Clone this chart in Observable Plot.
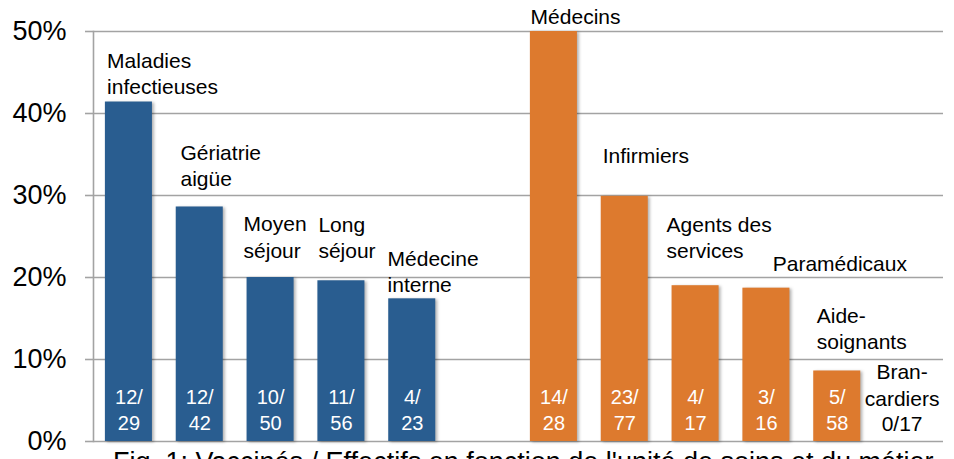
<!DOCTYPE html>
<html>
<head>
<meta charset="utf-8">
<script src="https://cdn.jsdelivr.net/npm/d3@7"></script>
<script src="https://cdn.jsdelivr.net/npm/@observablehq/plot@0.6"></script>
<style>
  html, body { margin: 0; padding: 0; background: #fff; overflow: hidden; }
  body { width: 954px; height: 459px; font-family: "Liberation Sans", Arial, Helvetica, sans-serif; }
  #chart svg { display: block; overflow: visible; }
  #caption { font-size: 27px; line-height: 30px; padding-left: 113px; white-space: nowrap; color: #000; }
</style>
</head>
<body>
<div id="chart"></div>
<div id="caption">Fig. 1: Vaccinés / Effectifs en fonction de l'unité de soins et du métier</div>
<script>
// ---- data ----
const categories = ["Maladies\ninfectieuses", "Gériatrie\naigüe", "Moyen\nséjour", "Long\nséjour", "Médecine\ninterne",
                    "Médecins", "Infirmiers", "Agents des\nservices", "Paramédicaux", "Aide-\nsoignants", "Bran-\ncardiers"];
const groups = ["unité", "unité", "unité", "unité", "unité", "métier", "métier", "métier", "métier", "métier", "métier"];
const values = [41.4, 28.6, 20.0, 19.6, 17.4, 50.0, 29.9, 19.0, 18.7, 8.6, 0];
const fractions = ["12/\n29", "12/\n42", "10/\n50", "11/\n56", "4/\n23", "14/\n28", "23/\n77", "4/\n17", "3/\n16", "5/\n58", "0/17"];
const yTicks = [0, 10, 20, 30, 40, 50];

// ---- layout / style (label nudges in pixels, relative to bar top and band centre) ----
const labelDx = [-21.8, -19.3, -27, -23, -24.7, -23.3, -22, -29, 6.3, -20.5, -6];
const labelDy = [-8, -21, -20, -23, -7, -8, -33, -28, -17, -22, -36];
const GAP = "gap";
const blue = "#295d90", orange = "#dd7a2e", gridColor = "#a3a3a3";

const rows = categories.map((key, i) => ({key, value: values[i], group: groups[i], fraction: fractions[i], i}));
const xDomain = [...categories.slice(0, 5), GAP, ...categories.slice(5)];

const labelMarks = rows.map((d, i) => Plot.text([d], {
  x: "key", y: "value", text: "key",
  dx: labelDx[i], dy: labelDy[i],
  textAnchor: d.value > 0 ? "start" : "middle",
  lineAnchor: "bottom", fontSize: 21, lineHeight: 1.24, fill: "black"
}));

const chart = Plot.plot({
  width: 954, height: 447,
  marginLeft: 93, marginRight: 11, marginTop: 31, marginBottom: 6,
  style: {fontFamily: "'Liberation Sans', Arial, Helvetica, sans-serif", background: "white", overflow: "visible"},
  x: {domain: xDomain, paddingInner: 0.336, paddingOuter: 0.168, round: false, axis: null},
  y: {domain: [0, 50], axis: null, label: null},
  color: {domain: ["unité", "métier"], range: [blue, orange]},
  marks: [
    Plot.gridY(yTicks, {stroke: gridColor, strokeOpacity: 1, strokeWidth: 1.6}),
    Plot.frame({anchor: "left", stroke: gridColor, strokeWidth: 1.6}),
    Plot.axisY(yTicks, {tickFormat: d => d + "%", tickSize: 8, tickPadding: 19, fontSize: 27, label: null,
                        stroke: gridColor, strokeWidth: 1.6, fill: "black"}),
    Plot.barY(rows.filter(d => d.value > 0), {x: "key", y: "value", fill: "group",
      imageFilter: "drop-shadow(2px 1px 1.5px rgba(0,0,0,0.3))"}),
    Plot.text(rows.filter(d => d.value > 0), {x: "key", y: d => 0, text: "fraction", dy: -12,
      lineAnchor: "bottom", fontSize: 20, lineHeight: 1.3, fill: "white"}),
    Plot.text(rows.filter(d => d.value === 0), {x: "key", y: d => 0, text: "fraction", dx: -6, dy: -11,
      lineAnchor: "bottom", fontSize: 21, fill: "black"}),
    ...labelMarks
  ]
});
document.getElementById("chart").appendChild(chart);
</script>
</body>
</html>
